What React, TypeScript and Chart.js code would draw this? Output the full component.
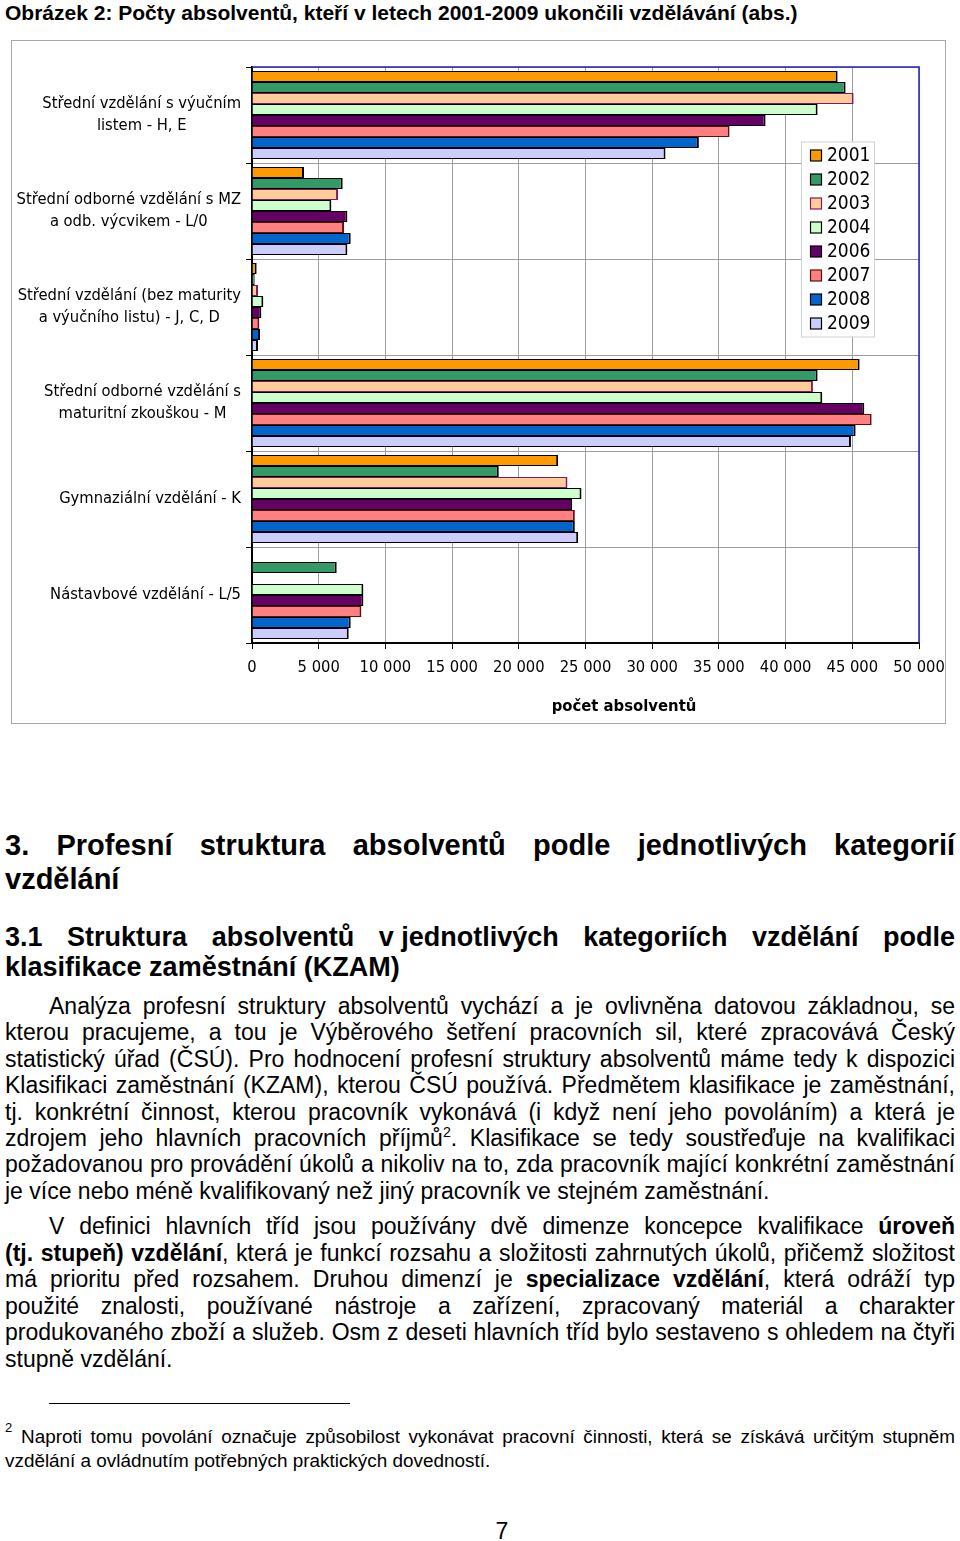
import React, { useEffect, useRef } from 'react';
import { Chart, registerables } from 'chart.js';

Chart.register(...registerables);

// ---------- chart data ----------
const categories: string[][] = [
  ['Střední vzdělání s výučním', 'listem - H, E'],
  ['Střední odborné vzdělání s MZ', 'a odb. výcvikem - L/0'],
  ['Střední vzdělání (bez maturity', 'a výučního listu) - J, C, D'],
  ['Střední odborné vzdělání s', 'maturitní zkouškou - M'],
  ['Gymnaziální vzdělání - K'],
  ['Nástavbové vzdělání - L/5'],
];

const years = ['2001', '2002', '2003', '2004', '2006', '2007', '2008', '2009'];

const v2001 = [43900, 3900, 350, 45550, 22950, null];
const v2002 = [44500, 6800, 200, 42400, 18500, 6350];
const v2003 = [45100, 6450, 450, 42050, 23650, null];
const v2004 = [42400, 5950, 850, 42750, 24700, 8350];
const v2006 = [38500, 7150, 700, 45900, 24000, 8350];
const v2007 = [35800, 6900, 550, 46450, 24200, 8200];
const v2008 = [33500, 7400, 600, 45250, 24200, 7400];
const v2009 = [31000, 7150, 450, 44900, 24450, 7250];

const seriesValues = [v2001, v2002, v2003, v2004, v2006, v2007, v2008, v2009];

const fillColors = ['#FF9900', '#339966', '#FFCC99', '#CCFFCC', '#660066', '#FF8080', '#0066CC', '#CCCCFF'];
const edgeColors = ['#000000', '#000000', '#7a1f5c', '#000000', '#000000', '#5a1010', '#000000', '#000000'];

const xMin = 0;
const xMax = 50000;
const xStep = 5000;
const axisTitle = 'počet absolventů';
const figureTitle = 'Obrázek 2: Počty absolventů, kteří v letech 2001-2009 ukončili vzdělávání (abs.)';

const LABEL_FONT = '"DejaVu Sans Condensed", "DejaVu Sans", sans-serif';

const fmt = (v: number) => String(v).replace(/\B(?=(\d{3})+(?!\d))/g, ' ');

const decorPlugin = {
  id: 'decor',
  afterDraw(chart: any) {
    const { ctx, chartArea: a, scales } = chart;
    const y = scales.y;
    ctx.save();
    // blue plot frame (top + right)
    ctx.strokeStyle = '#2020c0';
    ctx.lineWidth = 1.5;
    ctx.beginPath();
    ctx.moveTo(a.left, a.top);
    ctx.lineTo(a.right, a.top);
    ctx.lineTo(a.right, a.bottom);
    ctx.stroke();

    // category labels: block right-aligned, lines centered
    ctx.font = `16.4px ${LABEL_FONT}`;
    ctx.fillStyle = '#000';
    ctx.textAlign = 'center';
    ctx.textBaseline = 'middle';
    categories.forEach((lines, i) => {
      const cy = y.getPixelForValue(i);
      const w = Math.max(...lines.map((l) => ctx.measureText(l).width));
      const cx = a.left - 11 - w / 2;
      const lh = 22;
      lines.forEach((l, j) => ctx.fillText(l, cx, cy + (j - (lines.length - 1) / 2) * lh));
    });

    // axis title
    ctx.font = `bold 16.5px ${LABEL_FONT}`;
    ctx.fillText(axisTitle, a.left + 372, a.bottom + 64);

    // legend
    const lx = a.left + 549;
    const ly = a.top + 74.5;
    const lw = 73;
    const lh = 195;
    ctx.fillStyle = '#ffffff';
    ctx.fillRect(lx, ly, lw, lh);
    ctx.strokeStyle = '#c8d2dc';
    ctx.lineWidth = 1;
    ctx.strokeRect(lx + 0.5, ly + 0.5, lw, lh);
    ctx.font = `19px ${LABEL_FONT}`;
    ctx.textAlign = 'left';
    years.forEach((yr, i) => {
      const cy = ly + 14 + i * 24;
      ctx.fillStyle = fillColors[i];
      ctx.fillRect(lx + 9.5, cy - 5.5, 11, 11);
      ctx.strokeStyle = edgeColors[i];
      ctx.lineWidth = 1.2;
      ctx.strokeRect(lx + 9.5, cy - 5.5, 11, 11);
      ctx.fillStyle = '#000';
      ctx.fillText(yr, lx + 26, cy + 1);
    });
    ctx.restore();
  },
};

function ChartBox() {
  const ref = useRef<HTMLCanvasElement | null>(null);
  useEffect(() => {
    if (!ref.current) return;
    const chart = new Chart(ref.current, {
      type: 'bar',
      data: {
        labels: categories.map((c) => c.join(' ')),
        datasets: years.map((yr, i) => ({
          label: yr,
          data: seriesValues[i] as any,
          backgroundColor: fillColors[i],
          borderColor: edgeColors[i],
          borderWidth: { top: 1, bottom: 1, right: 2, left: 1 } as any,
          borderSkipped: 'start' as any,
          categoryPercentage: 0.917,
          barPercentage: 1,
        })),
      },
      options: {
        indexAxis: 'y',
        responsive: false,
        animation: false,
        devicePixelRatio: 1,
        layout: { padding: { top: 26, right: 26, left: 0, bottom: 0 } },
        plugins: { legend: { display: false }, tooltip: { enabled: false } },
        scales: {
          x: {
            min: xMin,
            max: xMax,
            ticks: {
              stepSize: xStep,
              callback: (v: any) => fmt(Number(v)),
              font: { family: LABEL_FONT, size: 16.4 },
              color: '#000',
              padding: 9,
              maxRotation: 0,
              autoSkip: false,
            },
            grid: { color: '#9c9c9c', tickColor: '#000', tickLength: 6, lineWidth: 1 },
            border: { color: '#000', width: 2 },
            afterFit: (s: any) => {
              s.height = 80;
              s.paddingLeft = 0;
              s.paddingRight = 0;
            },
          },
          y: {
            ticks: { display: false },
            grid: { offset: true, color: '#9c9c9c', tickColor: '#000', tickLength: 6, lineWidth: 1 },
            border: { color: '#000', width: 2 },
            afterFit: (s: any) => {
              s.width = 240;
              s.paddingTop = 0;
              s.paddingBottom = 0;
            },
          },
        },
      } as any,
      plugins: [decorPlugin],
    });
    return () => chart.destroy();
  }, []);
  return <canvas ref={ref} width={933} height={682} style={{ display: 'block' }} />;
}

type LineProps = {
  top: number;
  left?: number;
  width?: number;
  size: number;
  lh: number;
  bold?: boolean;
  last?: boolean;
  indent?: number;
  children: React.ReactNode;
};

function TLine({ top, left = 5, width = 950, size, lh, bold, last, indent, children }: LineProps) {
  return (
    <div
      style={{
        position: 'absolute',
        left,
        top,
        width,
        fontSize: size,
        lineHeight: `${lh}px`,
        height: lh,
        fontWeight: bold ? 'bold' : 'normal',
        textAlign: last ? 'left' : 'justify',
        textAlignLast: last ? 'left' : 'justify',
        textIndent: indent || 0,
      } as React.CSSProperties}
    >
      {children}
    </div>
  );
}

const sup = (t: string) => (
  <sup style={{ fontSize: '0.62em', lineHeight: 0, verticalAlign: 'super' }}>{t}</sup>
);

export default function App() {
  const bodySize = 23;
  const p1c = 1006;
  const p1h = 26.4;
  const p2c = 1226;
  const p2h = 26.6;
  const para1 = [
    'Analýza profesní struktury absolventů vychází a je ovlivněna datovou základnou, se',
    'kterou pracujeme, a tou je Výběrového šetření pracovních sil, které zpracovává Český',
    'statistický úřad (ČSÚ). Pro hodnocení profesní struktury absolventů máme tedy k dispozici',
    'Klasifikaci zaměstnání (KZAM), kterou ČSÚ používá. Předmětem klasifikace je zaměstnání,',
    'tj. konkrétní činnost, kterou pracovník vykonává (i když není jeho povoláním) a která je',
  ];
  return (
    <div
      style={{
        position: 'absolute',
        left: 0,
        top: 0,
        width: 960,
        height: 1541,
        background: '#fff',
        color: '#000',
        fontFamily: '"Liberation Sans", Arial, sans-serif',
        overflow: 'hidden',
      }}
    >
      <div
        style={{
          position: 'absolute',
          left: 5,
          top: 1,
          fontSize: 21,
          fontWeight: 'bold',
          lineHeight: '24px',
          whiteSpace: 'nowrap',
        }}
      >
        {figureTitle}
      </div>

      <div
        style={{
          position: 'absolute',
          left: 11,
          top: 40,
          width: 935,
          height: 684,
          border: '1px solid #a8a8a8',
          boxSizing: 'border-box',
        }}
      >
        <ChartBox />
      </div>

      <TLine top={845 - 17} size={29} lh={34} bold>
        3. Profesní struktura absolventů podle jednotlivých kategorií
      </TLine>
      <TLine top={879 - 17} size={29} lh={34} bold last>
        vzdělání
      </TLine>

      <TLine top={937 - 15} size={27} lh={30} bold>
        3.1 Struktura absolventů <span style={{ display: 'inline-block', textIndent: 0 }}>v&nbsp;jednotlivých</span> kategoriích vzdělání podle
      </TLine>
      <TLine top={967 - 15} size={27} lh={30} bold last>
        klasifikace zaměstnání (KZAM)
      </TLine>

      {para1.map((t, i) => (
        <TLine key={i} top={p1c + i * p1h - 13} size={bodySize} lh={26} indent={i === 0 ? 44 : 0}>
          {t}
        </TLine>
      ))}
      <TLine top={p1c + 5 * p1h - 13} size={bodySize} lh={26}>
        zdrojem jeho hlavních pracovních příjmů{sup('2')}. Klasifikace se tedy soustřeďuje na kvalifikaci
      </TLine>
      <TLine top={p1c + 6 * p1h - 13} size={bodySize} lh={26}>
        požadovanou pro provádění úkolů a nikoliv na to, zda pracovník mající konkrétní zaměstnání
      </TLine>
      <TLine top={p1c + 7 * p1h - 13} size={bodySize} lh={26} last>
        je více nebo méně kvalifikovaný než jiný pracovník ve stejném zaměstnání.
      </TLine>

      <TLine top={p2c - 13} size={bodySize} lh={26} indent={44}>
        V definici hlavních tříd jsou používány dvě dimenze koncepce kvalifikace <b>úroveň</b>
      </TLine>
      <TLine top={p2c + p2h - 13} size={bodySize} lh={26}>
        <b>(tj. stupeň) vzdělání</b>, která je funkcí rozsahu a složitosti zahrnutých úkolů, přičemž složitost
      </TLine>
      <TLine top={p2c + 2 * p2h - 13} size={bodySize} lh={26}>
        má prioritu před rozsahem. Druhou dimenzí je <b>specializace vzdělání</b>, která odráží typ
      </TLine>
      <TLine top={p2c + 3 * p2h - 13} size={bodySize} lh={26}>
        použité znalosti, používané nástroje a zařízení, zpracovaný materiál a charakter
      </TLine>
      <TLine top={p2c + 4 * p2h - 13} size={bodySize} lh={26}>
        produkovaného zboží a služeb. Osm z deseti hlavních tříd bylo sestaveno s ohledem na čtyři
      </TLine>
      <TLine top={p2c + 5 * p2h - 13} size={bodySize} lh={26} last>
        stupně vzdělání.
      </TLine>

      <div style={{ position: 'absolute', left: 49, top: 1403, width: 301, height: 1, background: '#000' }} />

      <div style={{ position: 'absolute', left: 5, top: 1420, fontSize: 13, lineHeight: '16px' }}>2</div>
      <TLine top={1437 - 12} left={21} width={934} size={18.9} lh={24}>
        Naproti tomu povolání označuje způsobilost vykonávat pracovní činnosti, která se získává určitým stupněm
      </TLine>
      <TLine top={1461 - 12} size={18.9} lh={24} last>
        vzdělání a ovládnutím potřebných praktických dovedností.
      </TLine>

      <div style={{ position: 'absolute', left: 490, top: 1518, width: 24, textAlign: 'center', fontSize: 23, lineHeight: '26px' }}>
        7
      </div>
    </div>
  );
}
